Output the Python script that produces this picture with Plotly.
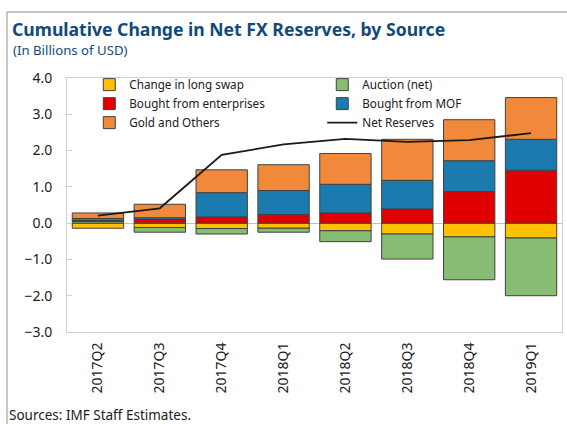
import plotly.graph_objects as go

# ─── Data ─────────────────────────────────────────────────────────────────────
quarters = ["2017Q2", "2017Q3", "2017Q4", "2018Q1", "2018Q2", "2018Q3", "2018Q4", "2019Q1"]

long_swap   = [-0.14, -0.12, -0.15, -0.14, -0.21, -0.30, -0.38, -0.41]
auction     = [0.05, -0.13, -0.15, -0.11, -0.30, -0.69, -1.18, -1.59]
enterprises = [0.02, 0.10, 0.17, 0.24, 0.28, 0.39, 0.87, 1.46]
mof         = [0.06, 0.05, 0.67, 0.66, 0.79, 0.79, 0.85, 0.85]
gold_other  = [0.15, 0.37, 0.63, 0.71, 0.85, 1.13, 1.13, 1.15]
net_res     = [0.21, 0.41, 1.88, 2.17, 2.32, 2.24, 2.29, 2.48]

y_ticks = [4, 3, 2, 1, 0, -1, -2, -3]

# ─── Theme ────────────────────────────────────────────────────────────────────
FONT     = "Noto Sans, Open Sans, sans-serif"
TITLE_C  = "#114a7a"
TEXT     = "#202020"
EDGE     = "#404040"
FRAME    = "#d0d0d0"

W, H = 567, 424
L, R, T, B = 67, 5, 78, 92
PW, PH = W - L - R, H - T - B


def px_x(x):
    return (x - L) / PW


def px_y(y):
    return (H - B - y) / PH


series = [
    ("Change in long swap",     long_swap,   "#ffc000"),
    ("Auction (net)",           auction,     "#86bd72"),
    ("Bought from enterprises", enterprises, "#e00000"),
    ("Bought from MOF",         mof,         "#1c7bae"),
    ("Gold and Others",         gold_other,  "#f08a3a"),
]

fig = go.Figure()
for name, vals, color in series:
    fig.add_trace(go.Bar(
        name=name, x=quarters, y=vals,
        marker=dict(color=color, line=dict(color=EDGE, width=1)),
    ))

fig.add_trace(go.Scatter(
    name="Net Reserves", x=quarters, y=net_res,
    mode="lines", line=dict(color="#1a1a1a", width=1.8),
))

n = len(quarters)
zero_pos = (0 - (-3)) / (4 - (-3))

fig.update_layout(
    width=W, height=H,
    barmode="relative", bargap=0.17,
    paper_bgcolor="white", plot_bgcolor="white",
    font=dict(family=FONT, color=TEXT, size=13),
    margin=dict(l=L, r=R, t=T, b=B),
    title=dict(
        text="<b>Cumulative Change in Net FX Reserves, by Source</b>",
        x=12 / W, xanchor="left", xref="container",
        y=1 - 30 / H, yanchor="middle", yref="container",
        font=dict(family=FONT, size=17.6, color=TITLE_C),
    ),
    legend=dict(
        orientation="h", entrywidth=188, entrywidthmode="pixels",
        x=0.045, y=1.031, xanchor="left", yanchor="top",
        bgcolor="rgba(0,0,0,0)", font=dict(size=11.7, color=TEXT),
        traceorder="normal",
    ),
    xaxis=dict(
        type="category", tickangle=-90, showgrid=False, ticks="",
        showline=True, linecolor=FRAME, mirror=True,
        tickfont=dict(size=14, color=TEXT), ticklabelstandoff=4,
    ),
    # category boundary ticks sitting on the zero line
    xaxis2=dict(
        overlaying="x", anchor="free", position=zero_pos, side="top",
        range=[-0.5, n - 0.5], tickvals=[i + 0.5 for i in range(n - 1)],
        ticks="outside", ticklen=5, tickcolor="#c0c0c0",
        showticklabels=False, showgrid=False, showline=False, zeroline=False,
    ),
    yaxis=dict(
        range=[-3, 4], tickvals=y_ticks, tickformat=".1f",
        showgrid=False, zeroline=True, zerolinecolor="#c0c0c0", zerolinewidth=1,
        showline=True, linecolor=FRAME, mirror=True,
        ticks="inside", ticklen=5, tickcolor=FRAME,
        tickfont=dict(size=14, color=TEXT), ticklabelstandoff=11,
    ),
    annotations=[
        dict(text="(In Billions of USD)", x=px_x(11), y=px_y(50),
             xref="paper", yref="paper", xanchor="left", yanchor="middle",
             showarrow=False, font=dict(size=13.2, color=TITLE_C)),
        dict(text="Sources: IMF Staff Estimates.", x=px_x(7), y=px_y(415),
             xref="paper", yref="paper", xanchor="left", yanchor="middle",
             showarrow=False, font=dict(size=13.5, color=TEXT)),
    ],
    shapes=[
        dict(type="line", xref="paper", yref="paper",
             x0=px_x(7), x1=px_x(W), y0=px_y(12), y1=px_y(12),
             line=dict(color="#909090", width=1)),
        dict(type="line", xref="paper", yref="paper",
             x0=px_x(7), x1=px_x(7), y0=px_y(12), y1=px_y(H + 5),
             line=dict(color="#909090", width=1)),
    ],
)

fig.write_html("out.html", config={"displayModeBar": False},
               post_script="document.body.style.margin='0';")
